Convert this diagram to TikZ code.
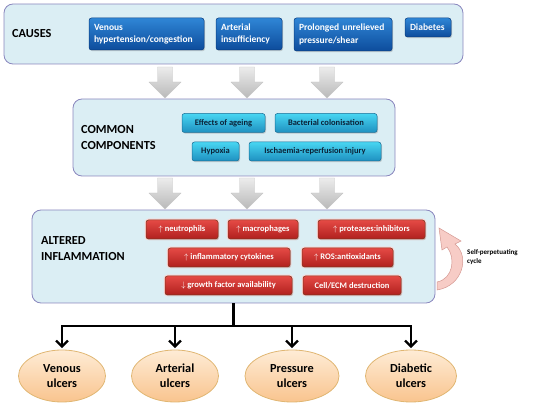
\documentclass[tikz,border=0pt]{standalone}
\usepackage{fontspec}
\setmainfont{Carlito}
\usetikzlibrary{arrows.meta,shapes.geometric,shadows}
\definecolor{panelfill}{HTML}{DBEEF4}
\definecolor{panelline}{HTML}{8A87BE}
\definecolor{bluetop}{HTML}{2F86D6}
\definecolor{bluebot}{HTML}{0D4C9C}
\definecolor{blueline}{HTML}{0B3F80}
\definecolor{cyantop}{HTML}{48D6F2}
\definecolor{cyanbot}{HTML}{1E90C0}
\definecolor{cyanline}{HTML}{1A6E96}
\definecolor{cyantext}{HTML}{0B2238}
\definecolor{redtop}{HTML}{E54A45}
\definecolor{redbot}{HTML}{B0201E}
\definecolor{redline}{HTML}{7A3B22}
\definecolor{peachtop}{HTML}{FEECD6}
\definecolor{peachbot}{HTML}{F9C48E}
\definecolor{peachline}{HTML}{E0B672}
\definecolor{cyclefill}{HTML}{F7CCC6}
\definecolor{cycleline}{HTML}{D59892}
\begin{document}
\begin{tikzpicture}[x=1pt, y=-1pt,
    panel/.style={draw=panelline, line width=0.8pt, fill=panelfill,
                  rounded corners=9pt, inner sep=0pt},
    heading/.style={anchor=west, font=\fontsize{12.3}{16}\selectfont\bfseries,
                    align=left, inner sep=0pt},
    cause/.style={draw=blueline, line width=0.5pt, top color=bluetop,
                  bottom color=bluebot, rounded corners=2.5pt, text=white,
                  font=\fontsize{9.5}{12.5}\selectfont\bfseries, align=left,
                  inner xsep=5pt, inner ysep=0pt, minimum height=#1,
                  drop shadow={shadow xshift=1pt, shadow yshift=-1.2pt, opacity=0.35}},
    common/.style={draw=cyanline, line width=0.5pt, top color=cyantop,
                   bottom color=cyanbot, rounded corners=2.5pt, text=cyantext,
                   font=\fontsize{8.5}{10}\selectfont\bfseries, inner sep=0pt,
                   minimum height=19pt, minimum width=#1,
                   drop shadow={shadow xshift=1pt, shadow yshift=-1.2pt, opacity=0.35}},
    inflam/.style={draw=redline, line width=0.5pt, top color=redtop,
                   bottom color=redbot, rounded corners=2.5pt, text=white,
                   font=\fontsize{8.5}{10}\selectfont\bfseries, inner sep=0pt,
                   minimum height=19pt, minimum width=#1,
                   preaction={draw=pink!70, line width=2.5pt},
                   drop shadow={shadow xshift=1pt, shadow yshift=-1.2pt, opacity=0.35}},
    ulcer/.style={ellipse, draw=peachline, line width=0.8pt, top color=peachtop,
                  bottom color=peachbot, font=\fontsize{12.3}{15}\selectfont\bfseries,
                  align=center, inner sep=0pt, minimum height=52pt, minimum width=#1},
    bigarrow/.style={draw=gray!45, line width=0.4pt, top color=gray!15,
                     bottom color=gray!55},
    tree/.style={line width=2.6pt, black},
    treearrow/.style={tree, -{Straight Barb[length=6pt, width=12pt, line width=2.2pt]}},
]
    \useasboundingbox (0,0) rectangle (550,409);

    \node[panel, minimum width=459pt, minimum height=60pt] (causes) at (233.5,34) {};
    \node[panel, minimum width=322pt, minimum height=77pt] (common) at (234,137.5) {};
    \node[panel, minimum width=403pt, minimum height=93pt] (altered) at (233.5,256.5) {};

    \node[heading] (causeslbl) at (12,34) {CAUSES};
    \node[heading] (commonlbl) at (81,138) {COMMON\\COMPONENTS};
    \node[heading] (alteredlbl) at (41,249) {ALTERED\\INFLAMMATION};

    \node[cause=32pt, text width=105pt] (venous) at (146.5,34) {Venous\\hypertension/congestion};
    \node[cause=32pt, text width=56pt] (arterial) at (249,34) {Arterial\\insufficiency};
    \node[cause=33pt, text width=88pt] (prolonged) at (343,34.5) {Prolonged unrelieved\\pressure/shear};
    \node[cause=19pt, text width=36pt] (diabetes) at (428,27.5) {Diabetes};

    \node[common=83pt] (ageing) at (223.5,123) {Effects of ageing};
    \node[common=102pt] (bacterial) at (326,123) {Bacterial colonisation};
    \node[common=47pt] (hypoxia) at (215.5,151.5) {Hypoxia};
    \node[common=132pt] (ischaemia) at (315,151.5) {Ischaemia-reperfusion injury};

    \node[inflam=72pt] (neutro) at (182,229.5) {$\uparrow$ neutrophils};
    \node[inflam=70pt] (macro) at (263,229.5) {$\uparrow$ macrophages};
    \node[inflam=107pt] (protease) at (371.5,229.5) {$\uparrow$ proteases:inhibitors};
    \node[inflam=122pt] (cytokine) at (229,257.5) {$\uparrow$ inflammatory cytokines};
    \node[inflam=91pt] (ros) at (347.5,257.5) {$\uparrow$ ROS:antioxidants};
    \node[inflam=127pt] (growth) at (228.5,285.5) {$\downarrow$ growth factor availability};
    \node[inflam=98pt] (ecm) at (352,285.5) {Cell/ECM destruction};

    \foreach \cx in {165,247,327} {
        \draw[bigarrow] (\cx-7.5,67) -- (\cx+7.5,67) -- (\cx+7.5,82) -- (\cx+16,82)
            -- (\cx,98) -- (\cx-16,82) -- (\cx-7.5,82) -- cycle;
        \draw[bigarrow] (\cx-7.5,178) -- (\cx+7.5,178) -- (\cx+7.5,193) -- (\cx+16,193)
            -- (\cx,209) -- (\cx-16,193) -- (\cx-7.5,193) -- cycle;
    }

    \draw[fill=cyclefill, draw=cycleline, line width=0.5pt]
        (437,290) .. controls (463,286) and (470,256) .. (455,244) -- (461,241)
        -- (439,228) -- (442,250) -- (447,247)
        .. controls (456,258) and (453,279) .. (437,282) -- cycle;
    \node[font=\fontsize{7}{8.5}\selectfont\bfseries, align=left, anchor=west,
          inner sep=0pt] (cycle) at (467,257) {Self-perpetuating\\cycle};

    \node[ulcer=87pt] (venousulc) at (62,376) {Venous\\ulcers};
    \node[ulcer=87pt] (arterialulc) at (175,376) {Arterial\\ulcers};
    \node[ulcer=94pt] (pressureulc) at (292,376) {Pressure\\ulcers};
    \node[ulcer=91pt] (diabeticulc) at (411,376) {Diabetic\\ulcers};

    \coordinate (split) at (233.5,326);
    \draw[tree] (altered.south) -- (split);
    \draw[tree, line cap=rect] (venousulc.north |- split) -- (diabeticulc.north |- split);
    \foreach \ulc in {venousulc,arterialulc,pressureulc,diabeticulc}
        \draw[treearrow] (\ulc.north |- split) -- ([yshift=1.5pt]\ulc.north);
\end{tikzpicture}
\end{document}
